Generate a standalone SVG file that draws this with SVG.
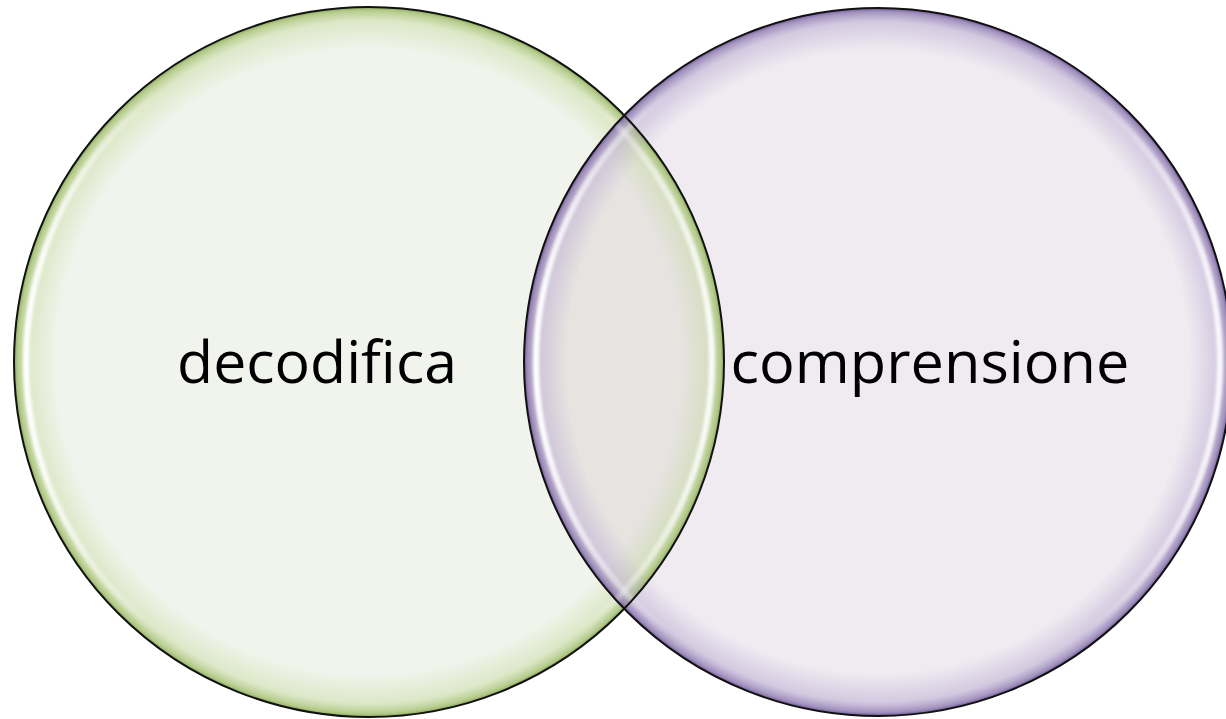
<svg xmlns="http://www.w3.org/2000/svg" width="1226" height="719" viewBox="0 0 1226 719">
  <defs>
    <style>
      .label { font-family: "Open Sans", "Liberation Sans", sans-serif; font-size: 58px; fill: #000; text-anchor: middle; }
      .outline { fill: none; stroke: #111; stroke-width: 2; }
      .shine { fill: none; stroke: url(#shine); stroke-width: 6; filter: url(#soft); }
    </style>
    <!-- tinted bevel toward the rim of the green set -->
    <radialGradient id="rimGreen" cx="0.5" cy="0.5" r="0.5">
      <stop offset="0.88" stop-color="#c4d99c" stop-opacity="0"/>
      <stop offset="0.96" stop-color="#c4d99c" stop-opacity="0.45"/>
      <stop offset="0.99" stop-color="#a9c47a" stop-opacity="0.85"/>
      <stop offset="1" stop-color="#8aa85a" stop-opacity="1"/>
    </radialGradient>
    <!-- tinted bevel toward the rim of the purple set -->
    <radialGradient id="rimPurple" cx="0.5" cy="0.5" r="0.5">
      <stop offset="0.88" stop-color="#b3a2cc" stop-opacity="0"/>
      <stop offset="0.96" stop-color="#b3a2cc" stop-opacity="0.45"/>
      <stop offset="0.99" stop-color="#9380b4" stop-opacity="0.85"/>
      <stop offset="1" stop-color="#6f5896" stop-opacity="1"/>
    </radialGradient>
    <!-- side highlight, brightest at left and right extremes -->
    <linearGradient id="shine" x1="0" y1="0" x2="1" y2="0">
      <stop offset="0" stop-color="#ffffff" stop-opacity="1"/>
      <stop offset="0.2" stop-color="#ffffff" stop-opacity="0"/>
      <stop offset="0.8" stop-color="#ffffff" stop-opacity="0"/>
      <stop offset="1" stop-color="#ffffff" stop-opacity="0.9"/>
    </linearGradient>
    <filter id="soft" x="-5%" y="-5%" width="110%" height="110%">
      <feGaussianBlur stdDeviation="1.5"/>
    </filter>
    <clipPath id="clipLeft">
      <circle cx="369" cy="362" r="355"/>
    </clipPath>
  </defs>

  <rect width="1226" height="719" fill="#ffffff"/>

  <!-- base fills -->
  <g id="decodifica-set">
    <circle cx="369" cy="362" r="355" fill="#f1f4ec"/>
  </g>
  <g id="comprensione-set">
    <circle cx="878" cy="362" r="354" fill="#efebf1"/>
  </g>
  <g id="overlap">
    <circle cx="878" cy="362" r="354" fill="#e6e3e1" clip-path="url(#clipLeft)"/>
  </g>

  <!-- bevels, highlights and outlines -->
  <g id="rims">
    <circle cx="369" cy="362" r="355" fill="url(#rimGreen)"/>
    <circle cx="878" cy="362" r="354" fill="url(#rimPurple)"/>
    <circle class="shine" cx="369" cy="362" r="343"/>
    <circle class="shine" cx="878" cy="362" r="342"/>
    <circle class="outline" cx="369" cy="362" r="355"/>
    <circle class="outline" cx="878" cy="362" r="354"/>
  </g>

  <g id="labels">
    <text class="label" x="317" y="383" textLength="280" lengthAdjust="spacingAndGlyphs">decodifica</text>
    <text class="label" x="930" y="383" textLength="399" lengthAdjust="spacingAndGlyphs">comprensione</text>
  </g>
</svg>
